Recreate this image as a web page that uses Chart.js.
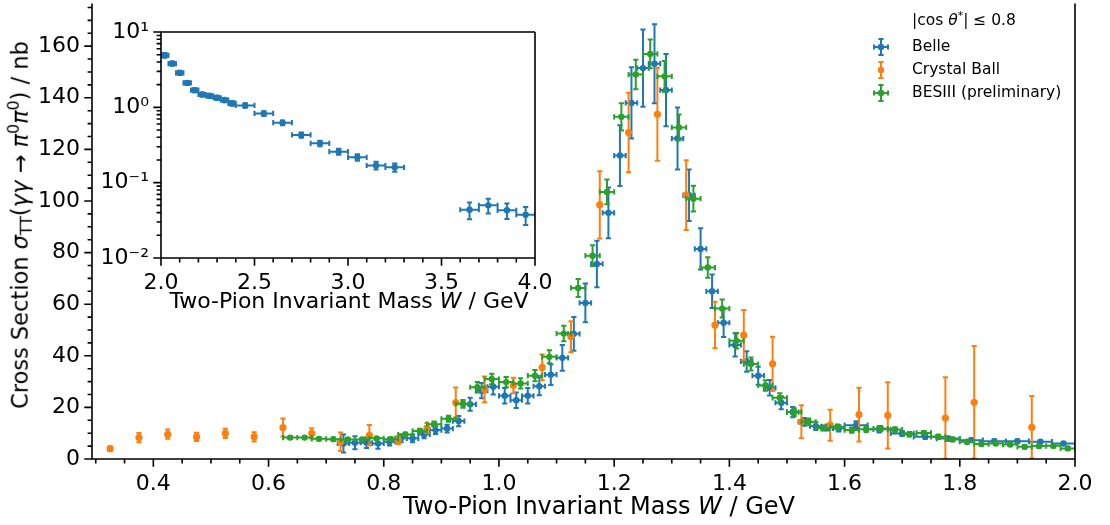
<!DOCTYPE html>
<html lang="en">
<head>
<meta charset="utf-8">
<title>γγ → π0π0 cross section</title>
<script src="https://cdn.jsdelivr.net/npm/chart.js@4.4.1/dist/chart.umd.min.js"></script>
<style>
  html, body { margin: 0; padding: 0; background: #fff; }
  #fig { position: relative; width: 1110px; height: 525px; overflow: hidden;
         font-family: "DejaVu Sans", sans-serif; color: #000; }
  #fig canvas { position: absolute; left: 0; top: 0; }
  .txt { position: absolute; white-space: nowrap; line-height: 1; }
  .axlab { font-size: 22.5px; transform: translate(-50%, -50%); }
  #ylab { transform: translate(-50%, -50%) rotate(-90deg); }
  #xlab { font-size: 24px; }
  #xlab2 { font-size: 22px; }
  .txt sub, .txt sup { font-size: 70%; line-height: 0; }
  .txt sub { vertical-align: -0.25em; }
  .txt sup { vertical-align: 0.6em; }
  .leg { font-size: 15.5px; transform: translateY(-50%); }
</style>
</head>
<body>
<div id="fig">
  <canvas id="main" width="1110" height="525"></canvas>
  <canvas id="inset" width="1110" height="525"></canvas>
  <div id="ylab" class="txt axlab" style="left:20px; top:225px">Cross Section <i>σ</i><sub>TT</sub>(<i>γγ</i> → <i>π</i><sup>0</sup><i>π</i><sup>0</sup>) / nb</div>
  <div id="xlab" class="txt axlab" style="left:599px; top:506px">Two-Pion Invariant Mass <i>W</i> / GeV</div>
  <div id="xlab2" class="txt axlab" style="left:349px; top:301px">Two-Pion Invariant Mass <i>W</i> / GeV</div>
  <div class="txt leg" style="left:912px; top:21px">|cos <i>θ</i><sup>*</sup>| ≤ 0.8</div>
  <div id="legend"></div>
</div>
<script>
const BLUE = '#1f77b4', ORANGE = '#ff7f0e', GREEN = '#2ca02c';

// ── Belle, main range (W in GeV, sigma in nb) ───────────────────────────────
const belleW = [0.73, 0.75, 0.77, 0.79, 0.81, 0.83, 0.85, 0.87, 0.89, 0.91,
                0.93, 0.95, 0.97, 0.99, 1.01, 1.03, 1.05, 1.07, 1.09, 1.11,
                1.13, 1.15, 1.17, 1.19, 1.21, 1.23, 1.25, 1.27, 1.29, 1.31,
                1.33, 1.35, 1.37, 1.39, 1.41, 1.43, 1.45, 1.47, 1.49, 1.51,
                1.53, 1.55, 1.57, 1.59,
                1.62, 1.66, 1.70, 1.74, 1.78, 1.82, 1.86, 1.90, 1.94, 1.98];
const belleWerr = [0.01, 0.01, 0.01, 0.01, 0.01, 0.01, 0.01, 0.01, 0.01, 0.01,
                   0.01, 0.01, 0.01, 0.01, 0.01, 0.01, 0.01, 0.01, 0.01, 0.01,
                   0.01, 0.01, 0.01, 0.01, 0.01, 0.01, 0.01, 0.01, 0.01, 0.01,
                   0.01, 0.01, 0.01, 0.01, 0.01, 0.01, 0.01, 0.01, 0.01, 0.01,
                   0.01, 0.01, 0.01, 0.01,
                   0.02, 0.02, 0.02, 0.02, 0.02, 0.02, 0.02, 0.02, 0.02, 0.02];
const belleSigma = [6.0, 6.3, 6.3, 6.0, 6.7, 8.0, 8.0, 9.5, 11.2, 11.8,
                    14.7, 21.2, 26.5, 28.0, 24.5, 22.8, 24.5, 28.2, 32.7, 39.2,
                    48.5, 60.5, 75.6, 95.4, 117.6, 138.0, 151.5, 153.2, 143.0, 124.2,
                    102.2, 81.4, 65.0, 52.8, 44.2, 37.8, 32.3, 27.6, 21.8, 18.2,
                    14.4, 12.7, 12.2, 11.9,
                    13.1, 11.5, 9.9, 8.6, 7.9, 7.3, 6.9, 6.9, 6.7, 6.0];
const belleErr = [3.5, 2.5, 2.0, 2.0, 1.5, 1.5, 1.5, 1.5, 1.5, 1.5,
                  2.0, 2.5, 3.0, 3.0, 3.0, 3.0, 3.0, 3.5, 4.0, 5.0,
                  6.5, 7.5, 9.0, 9.8, 11.8, 13.8, 15.0, 15.3, 14.0, 12.0,
                  10.0, 8.0, 6.5, 5.5, 4.5, 4.0, 3.5, 3.0, 2.5, 2.0,
                  1.5, 1.5, 1.2, 1.2,
                  1.5, 1.2, 1.0, 0.8, 0.8, 0.7, 0.7, 0.7, 0.6, 0.6];

// ── Crystal Ball ────────────────────────────────────────────────────────────
const cbW = [0.325, 0.375, 0.425, 0.475, 0.525, 0.575, 0.625, 0.675, 0.725, 0.775,
             0.825, 0.875, 0.925, 0.975, 1.025, 1.075, 1.125, 1.175, 1.225, 1.275,
             1.325, 1.375, 1.425, 1.475, 1.525, 1.575, 1.625, 1.675, 1.775, 1.825,
             1.925];
const cbSigma = [4.0, 8.3, 9.6, 8.6, 9.9, 8.6, 12.2, 9.9, 6.7, 9.2,
                 7.3, 12.0, 21.9, 27.0, 28.5, 35.5, 47.4, 98.5, 126.5, 133.6,
                 102.3, 51.9, 48.0, 36.9, 14.4, 13.1, 17.2, 16.9, 15.9, 22.0,
                 12.3];
const cbErr = [0.8, 1.8, 1.8, 1.6, 1.8, 1.8, 3.5, 2.0, 3.6, 4.0,
               1.5, 2.0, 5.8, 5.0, 3.0, 5.0, 6.0, 13.0, 15.4, 18.0,
               13.5, 9.0, 9.7, 10.5, 6.4, 6.0, 10.4, 12.8, 15.8, 21.8,
               12.1];

// ── BESIII (preliminary) ────────────────────────────────────────────────────
const besW = [0.6375, 0.6625, 0.6875, 0.7125, 0.7375, 0.7625, 0.7875, 0.8125, 0.8375, 0.8625,
              0.8875, 0.9125, 0.9375, 0.9625, 0.9875, 1.0125, 1.0375, 1.0625, 1.0875, 1.1125,
              1.1375, 1.1625, 1.1875, 1.2125, 1.2375, 1.2625, 1.2875, 1.3125, 1.3375, 1.3625,
              1.3875, 1.4125, 1.4375, 1.4625, 1.4875, 1.5125, 1.5375, 1.5625, 1.5875, 1.6125,
              1.6375, 1.6625, 1.6875, 1.7125, 1.7375, 1.7625, 1.7875, 1.8125, 1.8375, 1.8625,
              1.8875, 1.9125, 1.9375, 1.9625, 1.9875];
const besWerr = besW.map(() => 0.0125);
const besSigma = [8.3, 8.3, 7.8, 7.7, 7.6, 7.6, 8.0, 7.7, 9.5, 10.9,
                  13.5, 15.6, 21.4, 27.8, 31.0, 29.8, 29.3, 32.3, 39.6, 48.6,
                  66.3, 78.8, 103.5, 132.6, 149.0, 157.0, 148.3, 128.5, 100.9, 74.2,
                  58.3, 45.8, 36.8, 28.5, 23.7, 18.2, 14.4, 12.0, 12.4, 11.2,
                  11.5, 11.8, 11.4, 9.6, 10.1, 8.6, 7.6, 6.7, 5.8, 6.0,
                  5.6, 4.7, 5.0, 5.1, 4.1];
const besErr = [0.5, 0.5, 0.5, 0.5, 0.5, 0.5, 0.5, 0.5, 0.7, 0.8,
                1.0, 1.2, 1.5, 2.0, 2.0, 2.0, 2.0, 2.2, 2.5, 3.0,
                3.5, 4.0, 4.8, 5.3, 5.7, 5.6, 6.0, 5.0, 5.0, 4.0,
                3.5, 3.0, 2.5, 2.0, 1.8, 1.5, 1.3, 1.0, 1.0, 1.0,
                1.0, 1.0, 0.9, 0.9, 0.8, 0.8, 0.7, 0.7, 0.6, 0.6,
                0.6, 0.6, 0.6, 0.6, 0.6];

// ── Belle, high-mass range (inset, log scale) ───────────────────────────────
const insetW = [2.02, 2.06, 2.10, 2.14, 2.18, 2.22, 2.26, 2.30, 2.34, 2.38,
                2.45, 2.55, 2.65, 2.75, 2.85, 2.95, 3.05, 3.15, 3.25,
                3.65, 3.75, 3.85, 3.95];
const insetWerr = [0.02, 0.02, 0.02, 0.02, 0.02, 0.02, 0.02, 0.02, 0.02, 0.02,
                   0.05, 0.05, 0.05, 0.05, 0.05, 0.05, 0.05, 0.05, 0.05,
                   0.05, 0.05, 0.05, 0.05];
const insetSigma = [4.9, 3.81, 2.87, 2.11, 1.69, 1.48, 1.42, 1.34, 1.25, 1.13,
                    1.06, 0.83, 0.625, 0.43, 0.333, 0.258, 0.217, 0.169, 0.160,
                    0.0437, 0.050, 0.043, 0.0375];
const insetErr = [0.35, 0.25, 0.18, 0.13, 0.10, 0.09, 0.09, 0.09, 0.08, 0.08,
                  0.07, 0.06, 0.045, 0.035, 0.028, 0.024, 0.022, 0.02, 0.02,
                  0.011, 0.011, 0.010, 0.010];

// ── ticks ───────────────────────────────────────────────────────────────────
const mainXTicks = [0.4, 0.6, 0.8, 1.0, 1.2, 1.4, 1.6, 1.8, 2.0];
const mainYTicks = [0, 20, 40, 60, 80, 100, 120, 140, 160];
const insetXTicks = [2.0, 2.5, 3.0, 3.5, 4.0];
const insetYTicks = [0.01, 0.1, 1, 10];
const insetYLabels = ['10⁻²', '10⁻¹', '10⁰', '10¹'];

const steps = (a, b, s) => { const out = []; for (let v = a; v <= b + 1e-9; v += s) out.push(+v.toFixed(4)); return out; };
const logMinor = [0.01, 0.1, 1].flatMap(d => [2, 3, 4, 5, 6, 7, 8, 9].map(k => d * k));

Chart.defaults.font.family = '"DejaVu Sans", sans-serif';
Chart.defaults.font.size = 22;
Chart.defaults.color = '#000';

const pts = (xs, ys) => xs.map((x, i) => ({ x, y: ys[i] }));

// error bars drawn just before each dataset's markers
const errorBars = {
  id: 'errorBars',
  beforeDatasetDraw(chart, args) {
    const ds = chart.data.datasets[args.index];
    const { ctx, chartArea: a, scales: { x, y } } = chart;
    const cap = 2.6;
    ctx.save();
    ctx.beginPath();
    ctx.rect(a.left, a.top, a.right - a.left, a.bottom - a.top);
    ctx.clip();
    ctx.strokeStyle = ds.backgroundColor;
    ctx.lineWidth = 2;
    ctx.beginPath();
    ds.data.forEach((p, i) => {
      const px = x.getPixelForValue(p.x), py = y.getPixelForValue(p.y);
      const ye = ds.yerr[i];
      const y1 = y.getPixelForValue(p.y - ye), y2 = y.getPixelForValue(p.y + ye);
      ctx.moveTo(px, y1); ctx.lineTo(px, y2);
      ctx.moveTo(px - cap, y1); ctx.lineTo(px + cap, y1);
      ctx.moveTo(px - cap, y2); ctx.lineTo(px + cap, y2);
      if (ds.xerr) {
        const x1 = x.getPixelForValue(p.x - ds.xerr[i]), x2 = x.getPixelForValue(p.x + ds.xerr[i]);
        ctx.moveTo(x1, py); ctx.lineTo(x2, py);
        ctx.moveTo(x1, py - cap); ctx.lineTo(x1, py + cap);
        ctx.moveTo(x2, py - cap); ctx.lineTo(x2, py + cap);
      }
    });
    ctx.stroke();
    ctx.restore();
  }
};

// matplotlib-like spines and outward ticks
function frame(o) {
  return {
    id: 'frame',
    beforeDraw(chart) {
      if (!o.fill) return;
      const { ctx, chartArea: a } = chart;
      ctx.save();
      ctx.fillStyle = '#fff';
      ctx.fillRect(a.left, a.top, a.right - a.left, a.bottom - a.top);
      ctx.restore();
    },
    afterDraw(chart) {
      const { ctx, chartArea: a, scales: { x, y } } = chart;
      const inX = v => v >= x.min - 1e-9 && v <= x.max + 1e-9;
      const inY = v => v >= y.min - 1e-9 && v <= y.max + 1e-9;
      ctx.save();
      ctx.strokeStyle = '#000';
      ctx.lineWidth = 1.6;
      ctx.beginPath();
      o.xMinor.filter(inX).forEach(v => { const p = x.getPixelForValue(v); ctx.moveTo(p, a.bottom); ctx.lineTo(p, a.bottom + 4.4); });
      o.xMajor.filter(inX).forEach(v => { const p = x.getPixelForValue(v); ctx.moveTo(p, a.bottom); ctx.lineTo(p, a.bottom + 7.7); });
      o.yMinor.filter(inY).forEach(v => { const p = y.getPixelForValue(v); ctx.moveTo(a.left, p); ctx.lineTo(a.left - 4.4, p); });
      o.yMajor.filter(inY).forEach(v => { const p = y.getPixelForValue(v); ctx.moveTo(a.left, p); ctx.lineTo(a.left - 7.7, p); });
      ctx.stroke();
      ctx.beginPath();
      ctx.moveTo(a.right, a.top);
      ctx.lineTo(a.right, a.bottom);
      ctx.lineTo(a.left, a.bottom);
      ctx.lineTo(a.left, a.top);
      if (o.top) ctx.lineTo(a.right, a.top);
      ctx.stroke();
      ctx.restore();
    }
  };
}

const point = { pointRadius: 3.2, pointHoverRadius: 3.2, pointBorderWidth: 0 };

new Chart(document.getElementById('main'), {
  type: 'scatter',
  data: {
    datasets: [
      { label: 'Belle', data: pts(belleW, belleSigma), xerr: belleWerr, yerr: belleErr,
        backgroundColor: BLUE, order: 3, ...point },
      { label: 'Crystal Ball', data: pts(cbW, cbSigma), yerr: cbErr,
        backgroundColor: ORANGE, order: 2, ...point, pointRadius: 3.6, pointHoverRadius: 3.6 },
      { label: 'BESIII (preliminary)', data: pts(besW, besSigma), xerr: besWerr, yerr: besErr,
        backgroundColor: GREEN, order: 1, ...point },
    ]
  },
  options: {
    responsive: false, animation: false, devicePixelRatio: 1,
    layout: { padding: { left: 0, top: 0, right: 35, bottom: 0 } },
    plugins: { legend: { display: false }, tooltip: { enabled: false } },
    scales: {
      x: {
        type: 'linear', min: 0.2935, max: 2.0,
        grid: { display: false, drawTicks: false }, border: { display: false },
        afterBuildTicks: s => { s.ticks = mainXTicks.map(v => ({ value: v })); },
        afterFit: s => { s.height = 66; },
        ticks: { padding: 12, maxRotation: 0, autoSkip: false, callback: v => v.toFixed(1) }
      },
      y: {
        type: 'linear', min: 0, max: 176.5,
        grid: { display: false, drawTicks: false }, border: { display: false },
        afterBuildTicks: s => { s.ticks = mainYTicks.map(v => ({ value: v })); },
        afterFit: s => { s.width = 92; s.paddingTop = 0; },
        ticks: { padding: 12, autoSkip: false, callback: v => String(v) }
      }
    }
  },
  plugins: [errorBars, frame({ xMajor: mainXTicks, xMinor: steps(0.3, 2.0, 0.05),
                               yMajor: mainYTicks, yMinor: steps(0, 175, 5), top: false })]
});

new Chart(document.getElementById('inset'), {
  type: 'scatter',
  data: {
    datasets: [
      { label: 'Belle', data: pts(insetW, insetSigma), xerr: insetWerr, yerr: insetErr,
        backgroundColor: BLUE, ...point }
    ]
  },
  options: {
    responsive: false, animation: false, devicePixelRatio: 1,
    layout: { padding: { left: 0, top: 32, right: 575, bottom: 0 } },
    plugins: { legend: { display: false }, tooltip: { enabled: false } },
    scales: {
      x: {
        type: 'linear', min: 2.0, max: 4.0,
        grid: { display: false, drawTicks: false }, border: { display: false },
        afterBuildTicks: s => { s.ticks = insetXTicks.map(v => ({ value: v })); },
        afterFit: s => { s.height = 267; },
        ticks: { padding: 12, maxRotation: 0, autoSkip: false, callback: v => v.toFixed(1) }
      },
      y: {
        type: 'logarithmic', min: 0.01, max: 10,
        grid: { display: false, drawTicks: false }, border: { display: false },
        afterBuildTicks: s => { s.ticks = insetYTicks.map(v => ({ value: v })); },
        afterFit: s => { s.width = 161; },
        ticks: { padding: 12, autoSkip: false, callback: (v, i) => insetYLabels[i] }
      }
    }
  },
  plugins: [errorBars, frame({ xMajor: insetXTicks, xMinor: steps(2.0, 4.0, 0.1),
                               yMajor: insetYTicks, yMinor: logMinor, top: true, fill: true })]
});

// legend: error-bar glyphs + labels
const legendItems = [
  { label: 'Belle', color: BLUE, xbar: true, y: 46.7 },
  { label: 'Crystal Ball', color: ORANGE, xbar: false, y: 70 },
  { label: 'BESIII (preliminary)', color: GREEN, xbar: true, y: 92.7 },
];
const legend = document.getElementById('legend');
legendItems.forEach(it => {
  const c = document.createElement('canvas');
  c.width = 24; c.height = 24;
  c.style.left = (880.7 - 12) + 'px';
  c.style.top = (it.y - 12) + 'px';
  const g = c.getContext('2d');
  g.strokeStyle = it.color; g.fillStyle = it.color; g.lineWidth = 2;
  g.beginPath();
  g.moveTo(12, 4); g.lineTo(12, 20);
  g.moveTo(9.4, 4); g.lineTo(14.6, 4);
  g.moveTo(9.4, 20); g.lineTo(14.6, 20);
  if (it.xbar) {
    g.moveTo(5, 12); g.lineTo(19, 12);
    g.moveTo(5, 9.4); g.lineTo(5, 14.6);
    g.moveTo(19, 9.4); g.lineTo(19, 14.6);
  }
  g.stroke();
  g.beginPath(); g.arc(12, 12, 3.2, 0, Math.PI * 2); g.fill();
  legend.appendChild(c);
  const t = document.createElement('div');
  t.className = 'txt leg';
  t.style.left = '912px';
  t.style.top = it.y + 'px';
  t.textContent = it.label;
  legend.appendChild(t);
});
</script>
</body>
</html>
